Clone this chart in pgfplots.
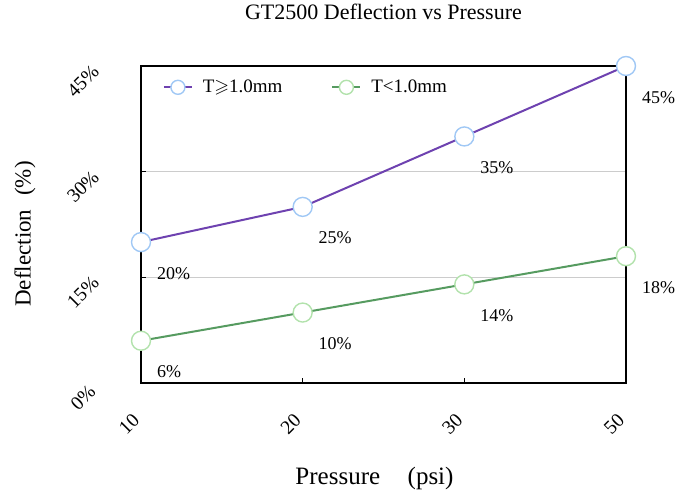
\documentclass[border=0pt]{standalone}
\usepackage{amssymb}
\usepackage{pgfplots}
\pgfplotsset{compat=1.18}
\usepackage{fontspec}
\setmainfont{Liberation Serif}
\definecolor{purpleline}{RGB}{110,66,176}
\definecolor{greenline}{RGB}{86,155,96}
\definecolor{bluemark}{RGB}{160,200,245}
\definecolor{greenmark}{RGB}{178,226,172}
\begin{document}
\begin{tikzpicture}
\path[use as bounding box] (-141pt,-111pt) rectangle (534pt,383pt);
\begin{axis}[
  at={(0pt,0pt)}, anchor=south west,
  scale only axis, width=485pt, height=317pt,
  xmin=0, xmax=3, ymin=0, ymax=45,
  xtick={0,1,2,3}, xticklabels={10,20,30,50},
  ytick={0,15,30,45},
  yticklabel={\pgfmathprintnumber{\tick}\%},
  /pgf/number format/assume math mode=true,
  axis line style={black, line width=1.6pt},
  tick style={black, line width=1.2pt},
  tick align=inside, major tick length=5pt,
  xtick pos=bottom, ytick pos=left,
  ymajorgrids, grid style={gray!40, line width=0.8pt},
  ticklabel style={font=\fontsize{19.5}{19.5}\selectfont},
  yticklabel style={xshift=-58pt, yshift=-15pt, rotate=45, anchor=center},
  xticklabel style={xshift=-12pt, yshift=-41pt, rotate=45, anchor=center},
  title={GT2500 Deflection vs Pressure},
  title style={font=\fontsize{22}{22}\selectfont, at={(0.5,1)}, anchor=center, yshift=48pt},
  xlabel={Pressure\hspace{1.1em}(psi)},
  xlabel style={font=\fontsize{25}{25}\selectfont, at={(0.5,0)}, anchor=center, yshift=-95pt, xshift=-9pt},
  ylabel={Deflection\hspace{0.6em}(\%)},
  ylabel style={font=\fontsize{23}{23}\selectfont, at={(axis description cs:-0.239,0.47)}, anchor=center},
  legend style={at={(0.045,0.962)}, anchor=north west, draw=none, fill=none,
    inner sep=0pt,
    font=\fontsize{19}{19}\selectfont, legend columns=2,
    /tikz/every even column/.append style={column sep=47pt},
    /tikz/every odd column/.append style={column sep=8pt}},
  legend cell align=left,
  legend image code/.code={%
    \draw[mark repeat=2,mark phase=2,#1] plot coordinates {(0pt,0pt) (14pt,0pt) (28pt,0pt)};},
  legend image post style={mark size=7pt, line width=1.8pt},
  clip=false,
  nodes near coords={\pgfmathprintnumber{\pgfplotspointmeta}\%},
  nodes near coords style={font=\fontsize{18}{18}\selectfont, anchor=north west, xshift=12pt, yshift=-21pt, text=black},
]
\addplot[purpleline, line width=2pt, mark=*, mark size=9.5pt,
  mark options={draw=bluemark, fill=white, line width=1.4pt}]
  coordinates {(0,20) (1,25) (2,35) (3,45)};
\addlegendentry{T$\geqslant$1.0mm}
\addplot[greenline, line width=2pt, mark=*, mark size=9.5pt,
  mark options={draw=greenmark, fill=white, line width=1.4pt}]
  coordinates {(0,6) (1,10) (2,14) (3,18)};
\addlegendentry{T<1.0mm}
\end{axis}
\end{tikzpicture}
\end{document}
